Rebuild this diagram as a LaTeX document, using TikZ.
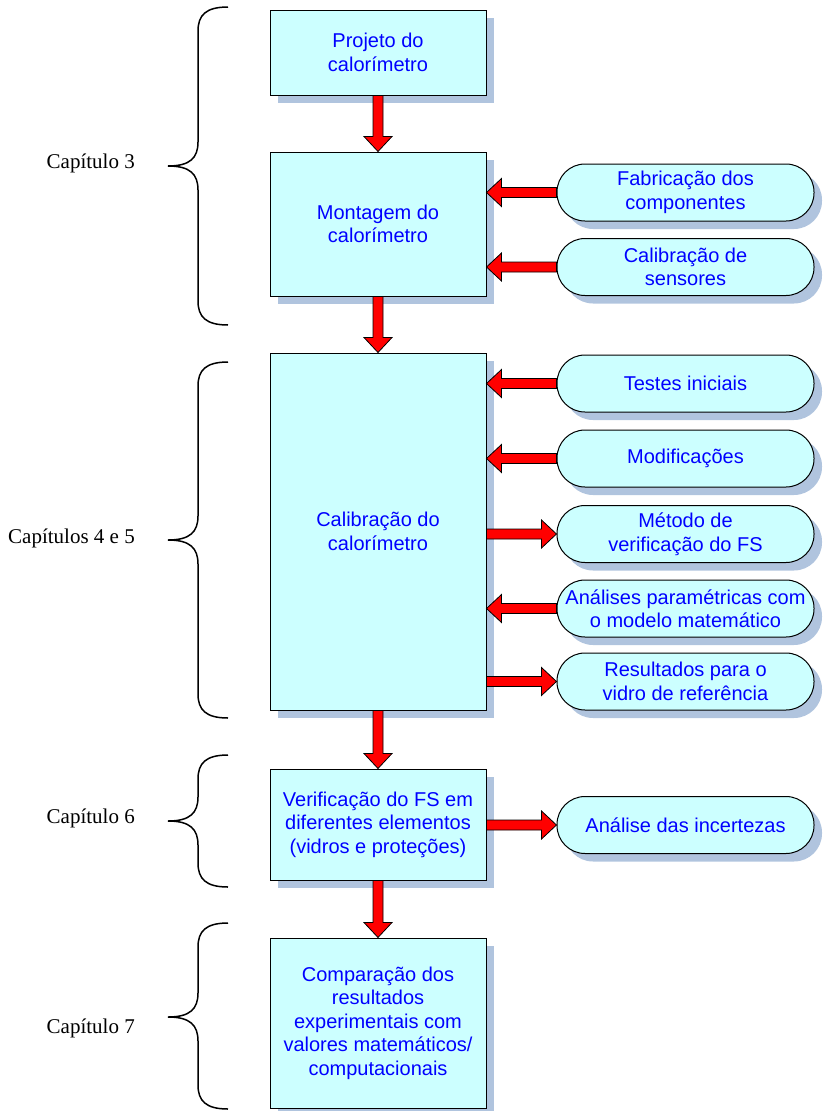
\documentclass[tikz,border=0pt]{standalone}
\usepackage{fontspec}
\setmainfont{Liberation Serif}
\newfontfamily\arialf{Liberation Sans}
\usetikzlibrary{calc,shadows}
\definecolor{boxfill}{RGB}{204,255,255}
\definecolor{shadowc}{RGB}{176,196,222}
\definecolor{txtblue}{RGB}{0,0,255}
\tikzset{
 mainbox/.style={draw=black, line width=1pt, fill=boxfill, text=txtblue,
   font=\arialf\fontsize{20}{23.5}\selectfont, align=center,
   minimum width=216pt, inner sep=0pt,
   drop shadow={shadow xshift=8pt, shadow yshift=-8pt, fill=shadowc, opacity=1}},
 sidebox/.style={mainbox, rounded corners=28pt, minimum width=257pt, minimum height=57pt},
 blockarrow/.style={draw=black, line width=0.8pt, fill=red, line join=miter},
 bracestyle/.style={draw=black, line width=1.5pt},
 chap/.style={font=\fontsize{21}{25}\selectfont, text=black, inner sep=0pt, anchor=base east}
}
\newcommand\arrdown[2]{\path[blockarrow] let \p1=(#1.south), \p2=(#2.north) in
  (\x1-5pt,\y1) -- (\x1-5pt,\y2+15pt) -- (\x1-14pt,\y2+15pt) -- (\x1,\y2)
  -- (\x1+14pt,\y2+15pt) -- (\x1+5pt,\y2+15pt) -- (\x1+5pt,\y1) -- cycle;}
\newcommand\arrleft[2]{\path[blockarrow] let \p1=(#1.west), \p2=(#2.east) in
  (\x1,\y1+5pt) -- (\x2+15pt,\y1+5pt) -- (\x2+15pt,\y1+14pt) -- (\x2,\y1)
  -- (\x2+15pt,\y1-14pt) -- (\x2+15pt,\y1-5pt) -- (\x1,\y1-5pt) -- cycle;}
\newcommand\arrright[2]{\path[blockarrow] let \p1=(#2.west), \p2=(#1.east) in
  (\x2,\y1+5pt) -- (\x1-15pt,\y1+5pt) -- (\x1-15pt,\y1+14pt) -- (\x1,\y1)
  -- (\x1-15pt,\y1-14pt) -- (\x1-15pt,\y1-5pt) -- (\x2,\y1-5pt) -- cycle;}
\newcommand\mybrace[3]{\draw[bracestyle] (228,#1) .. controls (206,#1) and (198,#1+8) .. (198,#1+24)
  -- (198,#2-24) .. controls (198,#2-8) and (190,#2) .. (168,#2)
  .. controls (190,#2) and (198,#2+8) .. (198,#2+24)
  -- (198,#3-24) .. controls (198,#3-8) and (206,#3) .. (228,#3);}
\begin{document}
\begin{tikzpicture}[x=1pt,y=-1pt]
\useasboundingbox (0,0) rectangle (822,1111);
% main boxes
\node[mainbox, minimum height=85pt] (b1) at (378,52.5) {Projeto do\\calorímetro};
\node[mainbox, minimum height=144pt] (b2) at (378,224) {Montagem do\\calorímetro};
\node[mainbox, minimum height=357pt] (b3) at (378,531.5) {Calibração do\\calorímetro};
\node[mainbox, minimum height=111pt] (b4) at (378,824.5) {Verificação do FS em\\diferentes elementos\\(vidros e proteções)};
\node[mainbox, minimum height=170pt] (b5) at (378,1023) {Comparação dos\\resultados\\experimentais com\\valores matemáticos/\\computacionais};
% side boxes
\node[sidebox] (s1) at (685.5,192.5) {Fabricação dos\\componentes};
\node[sidebox] (s2) at (685.5,267) {Calibração de\\sensores};
\node[sidebox] (s3) at (685.5,383.5) {Testes iniciais};
\node[sidebox] (s4) at (685.5,458.5) {Modificações};
\node[sidebox] (s5) at (685.5,534) {Método de\\verificação do FS};
\node[sidebox] (s6) at (685.5,608.5) {Análises paramétricas com\\o modelo matemático};
\node[sidebox] (s7) at (685.5,681.5) {Resultados para o\\vidro de referência};
\node[sidebox] (s8) at (685.5,825) {Análise das incertezas};
% arrows
\arrdown{b1}{b2}
\arrdown{b2}{b3}
\arrdown{b3}{b4}
\arrdown{b4}{b5}
\arrleft{s1}{b2}
\arrleft{s2}{b2}
\arrleft{s3}{b3}
\arrleft{s4}{b3}
\arrright{b3}{s5}
\arrleft{s6}{b3}
\arrright{b3}{s7}
\arrright{b4}{s8}
% braces and chapter labels
\mybrace{7}{166}{325}
\mybrace{362}{540}{718}
\mybrace{755}{821}{887}
\mybrace{923}{1017}{1109}
\node[chap] (c3) at (135,168) {Capítulo 3};
\node[chap] (c45) at (135,543) {Capítulos 4 e 5};
\node[chap] (c6) at (135,823) {Capítulo 6};
\node[chap] (c7) at (135,1033) {Capítulo 7};
\end{tikzpicture}
\end{document}
